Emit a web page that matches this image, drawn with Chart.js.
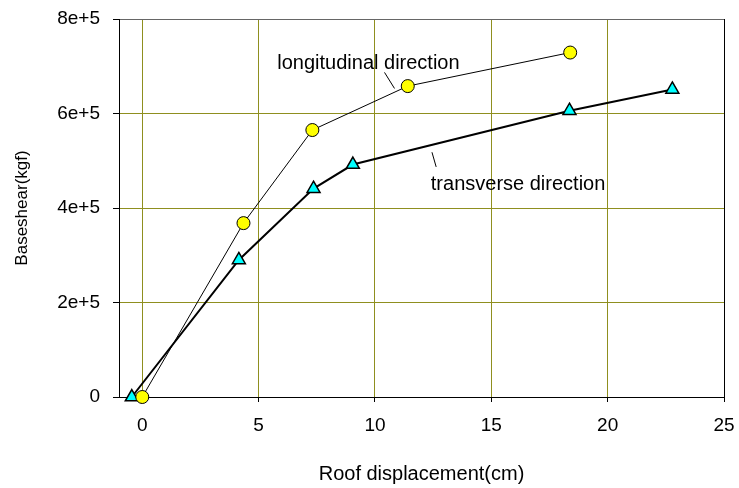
<!DOCTYPE html>
<html>
<head>
<meta charset="utf-8">
<script src="https://cdn.jsdelivr.net/npm/chart.js@4.4.1/dist/chart.umd.min.js"></script>
<style>
  html, body { margin: 0; padding: 0; background: #fff; }
  #wrap { width: 739px; height: 488px; }
</style>
</head>
<body>
<div id="wrap"><canvas id="pushoverChart"></canvas></div>
<script>
// roof displacement (cm) vs base shear (kgf)
const longX = [0, 4.35, 7.31, 11.41, 18.39];
const longY = [0, 368000, 565000, 658000, 729000];
const transX = [-0.45, 4.15, 7.36, 9.05, 18.36, 22.78];
const transY = [0, 290000, 441000, 492000, 606000, 651000];

const X_TICKS = [0, 5, 10, 15, 20, 25];
const Y_TICKS = [0, 200000, 400000, 600000, 800000];
const Y_TICK_LABELS = ['0', '2e+5', '4e+5', '6e+5', '8e+5'];

// callout labels, anchored in data units
const NOTE_TEXT = ['longitudinal direction', 'transverse direction'];
const NOTE_AT = [[9.72, 694000], [16.15, 439000]];
const NOTE_LEADER = [[[10.41, 687000], [10.84, 653000]], [[12.45, 518000], [12.63, 487000]]];

const FONT = '"Liberation Sans", Arial, sans-serif';
const GRID = '#8f8f1f';

function toPoints(xs, ys) {
  return xs.map((x, i) => ({ x, y: ys[i] }));
}

const notesPlugin = {
  id: 'notes',
  afterDatasetsDraw(chart) {
    const { ctx, scales } = chart;
    const px = (v) => scales.x.getPixelForValue(v);
    const py = (v) => scales.y.getPixelForValue(v);
    ctx.save();
    ctx.fillStyle = '#000';
    ctx.strokeStyle = '#000';
    ctx.lineWidth = 1;
    ctx.font = `20px ${FONT}`;
    ctx.textAlign = 'center';
    ctx.textBaseline = 'alphabetic';
    NOTE_TEXT.forEach((text, i) => {
      ctx.fillText(text, px(NOTE_AT[i][0]), py(NOTE_AT[i][1]));
      const [a, b] = NOTE_LEADER[i];
      ctx.beginPath();
      ctx.moveTo(px(a[0]), py(a[1]));
      ctx.lineTo(px(b[0]), py(b[1]));
      ctx.stroke();
    });
    ctx.restore();
  },
};

new Chart(document.getElementById('pushoverChart'), {
  type: 'scatter',
  data: {
    datasets: [
      {
        label: 'longitudinal direction',
        data: toPoints(longX, longY),
        showLine: true,
        borderColor: '#000',
        borderWidth: 1,
        pointStyle: 'circle',
        pointRadius: 6.5,
        pointBackgroundColor: '#ffff00',
        pointBorderColor: '#000',
        pointBorderWidth: 1,
        clip: false,
      },
      {
        label: 'transverse direction',
        data: toPoints(transX, transY),
        showLine: true,
        borderColor: '#000',
        borderWidth: 2,
        pointStyle: 'triangle',
        pointRadius: 7.5,
        pointBackgroundColor: '#00ffff',
        pointBorderColor: '#000',
        pointBorderWidth: 1.5,
        clip: false,
      },
    ],
  },
  options: {
    responsive: true,
    maintainAspectRatio: false,
    animation: false,
    layout: { padding: { top: 19, right: 15, left: 0, bottom: 0 } },
    plugins: {
      legend: { display: false },
      tooltip: { enabled: false },
    },
    scales: {
      x: {
        type: 'linear',
        min: -1,
        max: 25,
        afterBuildTicks(axis) {
          axis.ticks = X_TICKS.map((value) => ({ value }));
        },
        afterFit(axis) {
          // fixed frame: no extra room for label overhang
          axis.height = 91;
          axis.paddingLeft = 0;
          axis.paddingRight = 0;
        },
        grid: {
          color: X_TICKS.map((v) => (v === 25 ? '#000' : GRID)),
          tickColor: '#000',
          tickLength: 5,
        },
        border: { color: '#000', width: 1 },
        ticks: {
          color: '#000',
          padding: 12,
          maxRotation: 0,
          font: { family: FONT, size: 19 },
        },
        title: {
          display: true,
          text: 'Roof displacement(cm)',
          color: '#000',
          font: { family: FONT, size: 20 },
          padding: { top: 0, bottom: 2 },
        },
      },
      y: {
        type: 'linear',
        min: 0,
        max: 800000,
        afterBuildTicks(axis) {
          axis.ticks = Y_TICKS.map((value) => ({ value }));
        },
        afterFit(axis) {
          axis.width = 119;
          axis.paddingTop = 0;
          axis.paddingBottom = 0;
        },
        grid: {
          color: Y_TICKS.map((v) => (v === 800000 ? '#666' : GRID)),
          tickColor: '#000',
          tickLength: 6,
        },
        border: { color: '#000', width: 1 },
        ticks: {
          color: '#000',
          padding: 13,
          font: { family: FONT, size: 19 },
          callback: (value) => Y_TICK_LABELS[Y_TICKS.indexOf(value)],
        },
        title: {
          display: true,
          text: 'Baseshear(kgf)',
          color: '#000',
          font: { family: FONT, size: 17 },
          padding: { top: 12, bottom: 0 },
        },
      },
    },
  },
  plugins: [notesPlugin],
});
</script>
</body>
</html>
